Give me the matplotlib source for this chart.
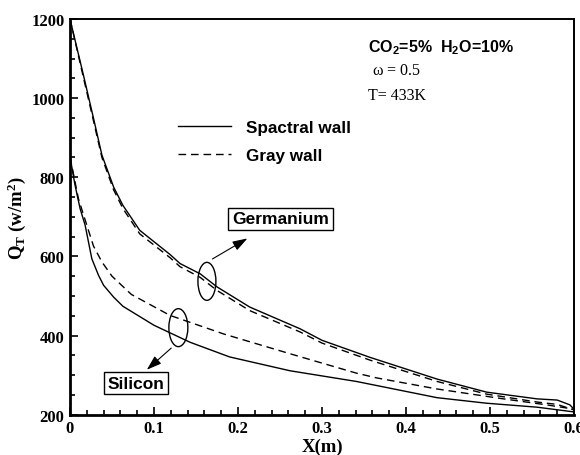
import numpy as np
import matplotlib
matplotlib.use('Agg')
import matplotlib.pyplot as plt
from matplotlib.patches import Ellipse
from matplotlib.ticker import MultipleLocator

plt.rcParams['mathtext.default'] = 'regular'

# Germanium, spectral wall (solid) and gray wall (dashed)
ge_spec_x = [0, 0.016, 0.028, 0.038, 0.052, 0.063, 0.083, 0.119, 0.131, 0.155, 0.175, 0.214,
             0.274, 0.3, 0.357, 0.437, 0.496, 0.556, 0.58, 0.595, 0.6]
ge_spec_y = [1200, 1058, 949, 856, 775, 729, 666, 605, 582, 556, 523, 472,
             417, 388, 345, 290, 257, 240, 237, 225, 214]
ge_gray_x = [0, 0.016, 0.028, 0.038, 0.052, 0.063, 0.083, 0.119, 0.131, 0.155, 0.175, 0.214,
             0.274, 0.3, 0.357, 0.437, 0.496, 0.556, 0.58, 0.6]
ge_gray_y = [1200, 1052, 942, 850, 768, 721, 657, 597, 574, 547, 514, 463,
             409, 381, 338, 284, 252, 232, 226, 212]

# Silicon, spectral wall (solid) and gray wall (dashed)
si_spec_x = [0, 0.006, 0.012, 0.018, 0.026, 0.034, 0.04, 0.052, 0.063, 0.1, 0.143, 0.19,
             0.262, 0.341, 0.437, 0.496, 0.556, 0.6]
si_spec_y = [852, 780, 721, 679, 594, 552, 527, 497, 474, 426, 383, 346,
             311, 284, 243, 229, 219, 207]
si_gray_x = [0, 0.01, 0.02, 0.028, 0.038, 0.05, 0.073, 0.119, 0.183, 0.262, 0.341, 0.365,
             0.437, 0.516, 0.567, 0.6]
si_gray_y = [852, 746, 679, 626, 586, 550, 504, 451, 404, 354, 305, 293,
             265, 240, 225, 214]

serif = 'Liberation Serif'
sans = 'Liberation Sans'

fig = plt.figure(figsize=(5.8, 4.56), dpi=100)
ax = fig.add_axes([70/580, 40.3/456, 504/580, 395.7/456])

lw = 1.0
dash = (5.5, 3.5)
l1, = ax.plot(ge_spec_x, ge_spec_y, color='black', lw=lw, label='Spactral wall')
l2, = ax.plot(ge_gray_x, ge_gray_y, color='black', lw=lw, dashes=dash, label='Gray wall')
ax.plot(si_spec_x, si_spec_y, color='black', lw=lw)
ax.plot(si_gray_x, si_gray_y, color='black', lw=lw, dashes=dash)

ax.set_xlim(0, 0.6)
ax.set_ylim(200, 1200)
ax.xaxis.set_major_locator(MultipleLocator(0.1))
ax.xaxis.set_minor_locator(MultipleLocator(0.02))
ax.yaxis.set_major_locator(MultipleLocator(200))
ax.yaxis.set_minor_locator(MultipleLocator(50))
ax.set_xticks([0, 0.1, 0.2, 0.3, 0.4, 0.5, 0.6])
ax.set_xticklabels(['0', '0.1', '0.2', '0.3', '0.4', '0.5', '0.6'])
ax.tick_params(which='both', direction='in', top=False, right=False, width=1.2)
ax.tick_params(which='major', length=6, labelsize=12, pad=4)
ax.tick_params(which='minor', length=3.5)
for lab in ax.get_xticklabels() + ax.get_yticklabels():
    lab.set_fontfamily(serif)
    lab.set_fontweight('bold')
for s in ['left', 'bottom']:
    ax.spines[s].set_linewidth(2.0)
for s in ['top', 'right']:
    ax.spines[s].set_linewidth(1.4)

ax.set_xlabel('X(m)', fontfamily=serif, fontweight='bold', fontsize=13.5, labelpad=1.2)
ax.set_ylabel(r'Q$_T$ (w/m$^2$)', fontfamily=serif, fontweight='bold', fontsize=13.5, labelpad=2)

leg = ax.legend(handles=[l1, l2], loc='upper left', bbox_to_anchor=(0.2, 0.762),
                frameon=False, handlelength=3.15, handletextpad=0.85, labelspacing=0.75,
                borderaxespad=0,
                prop={'family': sans, 'weight': 'bold', 'size': 12.3})

ax.text(0.355, 1131, r'CO$_2$=5%  H$_2$O=10%', fontfamily=sans, fontweight='bold',
        fontsize=11.5, va='center', ha='left')
ax.text(0.360, 1070, r'$\omega$ = 0.5', fontfamily=serif, fontsize=11.5, va='center', ha='left')
ax.text(0.355, 1009, 'T= 433K', fontfamily=serif, fontsize=11.5, va='center', ha='left')

# ellipses marking the curve pairs
ax.add_patch(Ellipse((0.163, 537), 0.0214, 96, fill=False, lw=1.0, color='black'))
ax.add_patch(Ellipse((0.129, 420), 0.0226, 96, fill=False, lw=1.0, color='black'))

box = dict(boxstyle='square,pad=0.22', fc='white', ec='black', lw=1.0)
arrow = dict(arrowstyle='-|>,head_length=0.9,head_width=0.3', color='black', lw=0.8)
ax.annotate('', xy=(0.214, 649), xytext=(0.1667, 590), arrowprops=arrow)
ax.annotate('', xy=(0.089, 309), xytext=(0.123, 373), arrowprops=arrow)
ax.text(0.2506, 695, 'Germanium', fontfamily=sans, fontweight='bold', fontsize=12.5,
        ha='center', va='center', bbox=box)
ax.text(0.0784, 280, 'Silicon', fontfamily=sans, fontweight='bold', fontsize=12.5,
        ha='center', va='center', bbox=box)

fig.savefig('out.png', dpi=100)
